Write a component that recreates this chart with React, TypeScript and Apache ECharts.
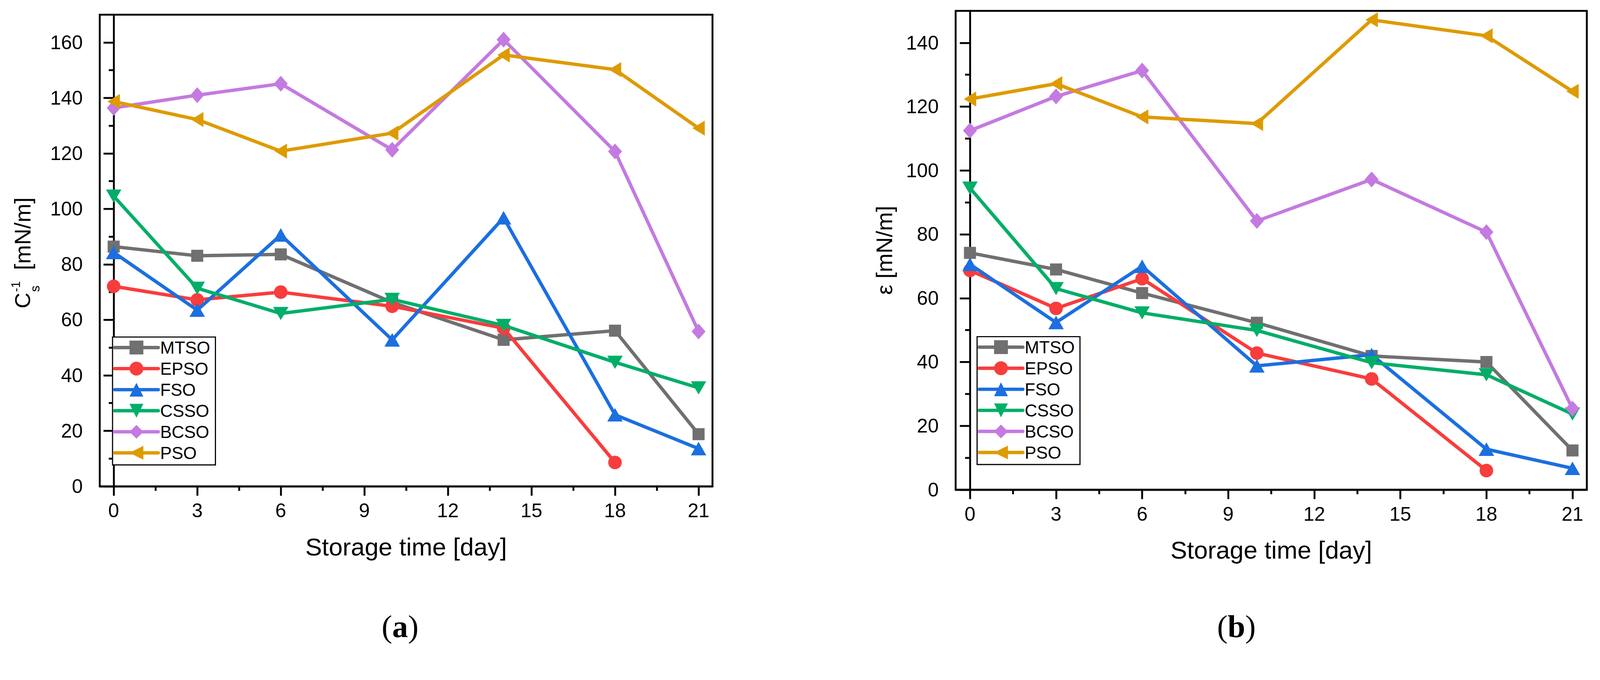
import React, { useEffect, useRef, useState } from "react";
import * as echarts from "echarts";

// ---------- data ----------
const days = [0, 3, 6, 10, 14, 18, 21];
const seriesNames = ["MTSO", "EPSO", "FSO", "CSSO", "BCSO", "PSO"];

// (a) C_s^-1 [mN/m]
const csMTSO = [86.4, 83.1, 83.6, 66.3, 52.8, 56.1, 18.8];
const csEPSO = [72.1, 67.2, 70.0, 64.9, 57.0, 8.6, null];
const csFSO = [84.3, 63.5, 90.6, 52.8, 96.8, 25.8, 13.6];
const csCSSO = [104.6, 71.4, 62.3, 67.4, 58.0, 44.7, 35.5];
const csBCSO = [136.4, 141.0, 145.1, 121.3, 161.0, 120.7, 55.8];
const csPSO = [138.7, 132.2, 120.8, 127.3, 155.5, 150.2, 129.1];

// (b) epsilon [mN/m]
const epMTSO = [74.2, 69.0, 61.6, 52.3, 41.9, 40.0, 12.3];
const epEPSO = [68.7, 56.8, 66.1, 42.8, 34.7, 6.0, null];
const epFSO = [70.6, 52.4, 70.0, 38.8, 42.3, 12.7, 6.7];
const epCSSO = [94.5, 63.0, 55.4, 49.9, 39.8, 36.0, 23.7];
const epBCSO = [112.5, 123.2, 131.3, 84.2, 97.2, 80.7, 25.4];
const epPSO = [122.4, 127.2, 116.8, 114.7, 147.2, 142.2, 124.8];

// ticks
const xMajorTicks = [0, 3, 6, 9, 12, 15, 18, 21];
const xMinorTicks = [1.5, 4.5, 7.5, 10.5, 13.5, 16.5, 19.5];
const yMajorTicksA = [0, 20, 40, 60, 80, 100, 120, 140, 160];
const yMinorTicksA = [10, 30, 50, 70, 90, 110, 130, 150];
const yMajorTicksB = [0, 20, 40, 60, 80, 100, 120, 140];
const yMinorTicksB = [10, 30, 50, 70, 90, 110, 130];

// ---------- styles ----------
const W = 4251;
const H = 1742;
const FONT = "'Liberation Sans', Arial, sans-serif";
const SERIF = "'Liberation Serif', 'Times New Roman', serif";
const STYLES = [
  { color: "#707070", symbol: "rect", size: [32, 32], rotate: 0 },
  { color: "#F93C3C", symbol: "circle", size: [36, 36], rotate: 0 },
  { color: "#1B6FE0", symbol: "triangle", size: [41, 36], rotate: 0 },
  { color: "#00AE68", symbol: "triangle", size: [41, 35], rotate: 180 },
  { color: "#C47AE0", symbol: "diamond", size: [37, 42], rotate: 0 },
  { color: "#DE9B00", symbol: "triangle", size: [40, 33], rotate: 90 },
];

function buildSeries(valueLists: (number | null)[][], xi: number, yi: number) {
  return seriesNames.map((name, k) => {
    const st = STYLES[k];
    return {
      type: "line",
      name,
      xAxisIndex: xi,
      yAxisIndex: yi,
      data: days
        .map((d, i) => [d, valueLists[k][i]])
        .filter((p) => p[1] !== null && p[1] !== undefined),
      symbol: st.symbol,
      symbolSize: st.size,
      symbolRotate: st.rotate,
      showAllSymbol: true,
      lineStyle: { color: st.color, width: 9, cap: "round", join: "round" },
      itemStyle: { color: st.color, borderWidth: 0 },
      emphasis: { disabled: true },
      z: 2 + k,
    };
  });
}

function mainX(gridIndex: number) {
  return {
    type: "value",
    gridIndex,
    min: -0.5,
    max: 21.5,
    position: "bottom",
    axisLine: { show: true, onZero: false, lineStyle: { color: "#000", width: 5 } },
    axisTick: { show: true, inside: false, length: 25, customValues: xMajorTicks, lineStyle: { color: "#000", width: 5 } },
    axisLabel: { show: true, customValues: xMajorTicks, margin: 39, fontSize: 52, color: "#000", fontFamily: FONT },
    splitLine: { show: false },
    name: "Storage time [day]",
    nameLocation: "middle",
    nameGap: 127,
    nameTextStyle: { fontSize: 66, color: "#000", fontFamily: FONT },
  };
}

function minorX(gridIndex: number) {
  return {
    type: "value",
    gridIndex,
    min: -0.5,
    max: 21.5,
    position: "bottom",
    axisLine: { show: false, onZero: false },
    axisTick: { show: true, inside: false, length: 12, customValues: xMinorTicks, lineStyle: { color: "#000", width: 5 } },
    axisLabel: { show: false },
    splitLine: { show: false },
  };
}

function mainY(gridIndex: number, max: number, ticks: number[], name?: string) {
  const ax: any = {
    type: "value",
    gridIndex,
    min: 0,
    max,
    position: "left",
    axisLine: { show: true, lineStyle: { color: "#000", width: 5 } },
    axisTick: { show: true, inside: false, length: 27, customValues: ticks, lineStyle: { color: "#000", width: 5 } },
    axisLabel: { show: true, customValues: ticks, margin: 45, fontSize: 52, color: "#000", fontFamily: FONT },
    splitLine: { show: false },
  };
  if (name) {
    ax.name = name;
    ax.nameLocation = "middle";
    ax.nameRotate = 90;
    ax.nameGap = 159;
    ax.nameTextStyle = { fontSize: 60, color: "#000", fontFamily: FONT };
  }
  return ax;
}

function minorY(gridIndex: number, max: number, ticks: number[]) {
  return {
    type: "value",
    gridIndex,
    min: 0,
    max,
    position: "left",
    offset: 0,
    axisLine: { show: false },
    axisTick: { show: true, inside: false, length: 13, customValues: ticks, lineStyle: { color: "#000", width: 5 } },
    axisLabel: { show: false },
    splitLine: { show: false },
  };
}

function legendAt(left: number, top: number) {
  return {
    show: true,
    orient: "vertical",
    left,
    top,
    data: seriesNames,
    selectedMode: false,
    itemWidth: 116,
    itemHeight: 46,
    itemGap: 10,
    padding: [5, 14, 9, 1],
    borderColor: "#000",
    borderWidth: 3,
    backgroundColor: "#fff",
    lineStyle: { width: 9, cap: "round" },
    textStyle: { fontSize: 46, color: "#000", fontFamily: FONT },
  };
}

function caption(letter: string, x: number, y: number) {
  return {
    type: "text",
    x,
    y,
    style: {
      text: "{p|(}{b|" + letter + "}{p|)}",
      align: "center",
      verticalAlign: "middle",
      rich: {
        p: { fontSize: 84, fontFamily: SERIF, fill: "#000" },
        b: { fontSize: 84, fontFamily: SERIF, fontWeight: "bold", fill: "#000" },
      },
    },
  };
}

function fitScale() {
  if (typeof window === "undefined") return 1;
  const sx = window.innerWidth / W;
  const sy = window.innerHeight / H;
  const s = Math.min(sx, sy);
  return s > 0 && s < 1 ? s : 1;
}

export default function App() {
  const ref = useRef<HTMLDivElement>(null);
  const [scale] = useState(fitScale);

  useEffect(() => {
    document.body.style.margin = "0";
    document.body.style.overflow = "hidden";
    if (!ref.current) return;
    const chart = echarts.init(ref.current, undefined, { renderer: "svg", width: W, height: H });
    const option: any = {
      animation: false,
      backgroundColor: "#fff",
      grid: [
        { left: 265, top: 39, width: 1628, height: 1254, show: true, borderColor: "#000", borderWidth: 5, backgroundColor: "transparent" },
        { left: 2539, top: 29, width: 1677, height: 1273, show: true, borderColor: "#000", borderWidth: 5, backgroundColor: "transparent" },
      ],
      xAxis: [mainX(0), minorX(0), mainX(1), minorX(1)],
      yAxis: [
        mainY(0, 170, yMajorTicksA),
        minorY(0, 170, yMinorTicksA),
        mainY(1, 150, yMajorTicksB, "ε [mN/m]"),
        minorY(1, 150, yMinorTicksB),
      ],
      legend: [legendAt(299, 896), legendAt(2596, 895)],
      series: [
        ...buildSeries([csMTSO, csEPSO, csFSO, csCSSO, csBCSO, csPSO], 0, 0),
        ...buildSeries([epMTSO, epEPSO, epFSO, epCSSO, epBCSO, epPSO], 2, 2),
      ],
      graphic: [
        {
          type: "group",
          x: 60,
          y: 820,
          rotation: Math.PI / 2,
          children: [
            { type: "text", x: 0, y: 0, style: { text: "C", fontSize: 58, fontFamily: FONT, fill: "#000", align: "left", verticalAlign: "middle" } },
            { type: "text", x: 44, y: -18, style: { text: "-1", fontSize: 32, fontFamily: FONT, fill: "#000", align: "left", verticalAlign: "middle" } },
            { type: "text", x: 44, y: 33, style: { text: "s", fontSize: 34, fontFamily: FONT, fill: "#000", align: "left", verticalAlign: "middle" } },
            { type: "text", x: 102, y: 0, style: { text: "[mN/m]", fontSize: 60, fontFamily: FONT, fill: "#000", align: "left", verticalAlign: "middle" } },
          ],
        },
        caption("a", 1063, 1666),
        caption("b", 3285, 1666),
      ],
    };
    chart.setOption(option);
    return () => chart.dispose();
  }, []);

  return (
    <div
      style={{
        position: "fixed",
        left: 0,
        top: 0,
        width: W,
        height: H,
        transform: scale !== 1 ? `scale(${scale})` : undefined,
        transformOrigin: "0 0",
        background: "#fff",
      }}
    >
      <div ref={ref} style={{ width: W, height: H }} />
    </div>
  );
}
